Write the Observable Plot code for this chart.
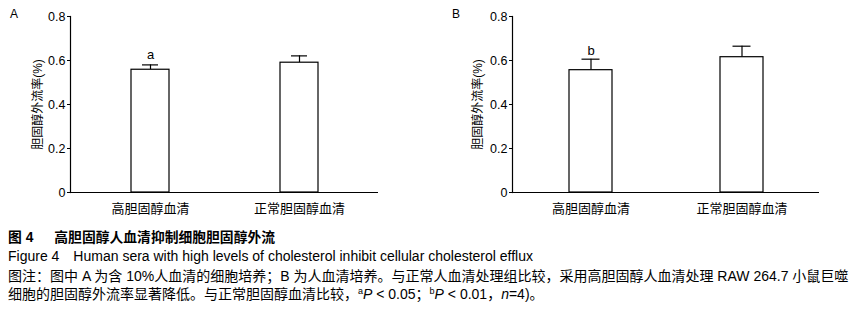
<!DOCTYPE html>
<html>
<head>
<meta charset="utf-8">
<script src="https://cdn.jsdelivr.net/npm/d3@7"></script>
<script src="https://cdn.jsdelivr.net/npm/@observablehq/plot@0.6"></script>
<style>
  body { margin: 0; background: #fff; }
  #wrap { position: relative; width: 851px; height: 316px; overflow: hidden; background: #fff;
          font-family: "Liberation Sans", Arial, "Noto Sans CJK SC", sans-serif; color: #000; }
  .panel { position: absolute; top: 0; }
  .plab { position: absolute; font-size: 12px; top: 7px; }
  .cap { position: absolute; left: 8px; font-size: 14px; white-space: nowrap; line-height: 19px; }
  sup { font-size: 9px; vertical-align: 0; position: relative; top: -5px; }
</style>
</head>
<body>
<div id="wrap">
  <div class="plab" style="left:10px">A</div>
  <div class="plab" style="left:452px">B</div>
  <div class="panel" id="pa" style="left:0px"></div>
  <div class="panel" id="pb" style="left:430px"></div>
  <div class="cap" style="top:228px;font-weight:bold;font-size:13.8px">图 4<span style="display:inline-block;width:21px"></span>高胆固醇人血清抑制细胞胆固醇外流</div>
  <div class="cap" style="top:247px">Figure 4<span style="display:inline-block;width:14px"></span>Human sera with high levels of cholesterol inhibit cellular cholesterol efflux</div>
  <div class="cap" style="top:267px">图注：图中 A 为含 10%人血清的细胞培养；B 为人血清培养。与正常人血清处理组比较，采用高胆固醇人血清处理 RAW 264.7 小鼠巨噬</div>
  <div class="cap" style="top:285px">细胞的胆固醇外流率显著降低。与正常胆固醇血清比较，<sup>a</sup><i>P</i> &lt; 0.05；<sup>b</sup><i>P</i> &lt; 0.01，<i>n</i>=4)。</div>
</div>
<script>
const categories = ["高胆固醇血清", "正常胆固醇血清"];
const meansA = [0.558, 0.590];
const errA = [0.022, 0.031];
const marksA = ["a", ""];
const meansB = [0.556, 0.615];
const errB = [0.050, 0.050];
const marksB = ["b", ""];
const yTicks = [0, 0.2, 0.4, 0.6, 0.8];
const yLabel = "胆固醇外流率(%)";

function panel(means, errs, letters, opt) {
  const data = categories.map((c, i) => ({cat: c, v: means[i], e: errs[i], top: means[i] + errs[i], lab: letters[i]}));
  const font = "Liberation Sans, Arial, Noto Sans CJK SC, sans-serif";
  return Plot.plot({
    width: opt.width,
    height: 222,
    marginLeft: opt.ml,
    marginRight: opt.mr,
    marginTop: 16,
    marginBottom: 30,
    style: {fontFamily: font, fontSize: "12px", color: "#000", background: "transparent"},
    x: {domain: categories, paddingInner: opt.pi, paddingOuter: opt.po, label: null},
    y: {domain: [0, 0.8], ticks: yTicks, label: null},
    marks: [
      Plot.axisY({ticks: yTicks, tickSize: 3, tickPadding: 2, tickFormat: d => d === 0 ? "0" : d.toFixed(1), fontSize: 12.5, stroke: "#000"}),
      Plot.axisY({ticks: [], label: yLabel, labelAnchor: "center", labelArrow: "none", labelOffset: opt.lo, fontSize: 12, tickSize: 0}),
      Plot.axisX({tickSize: 0, tickPadding: 11, fontSize: 13, label: null}),
      Plot.ruleX(data, {x: "cat", y1: 0, y2: d => 0.009, stroke: "#000"}),
      Plot.ruleX(data, {x: "cat", y1: "v", y2: "top", stroke: "#000", strokeWidth: 1.2}),
      Plot.tickY(data, {x: "cat", y: "top", stroke: "#000", strokeWidth: 1.2, insetLeft: opt.cap, insetRight: opt.cap}),
      Plot.barY(data, {x: "cat", y: "v", fill: "#fff", stroke: "#000", strokeWidth: 1.2}),
      Plot.text(data, {x: "cat", y: "top", text: "lab", lineAnchor: "bottom", dy: opt.tdy, fontSize: 13}),
      Plot.ruleY([0], {stroke: "#000", strokeWidth: 1.2}),
      Plot.frame({anchor: "left", stroke: "#000", strokeWidth: 1.2})
    ]
  });
}

document.getElementById("pa").appendChild(panel(meansA, errA, marksA,
  {width: 430, ml: 70, mr: 52, pi: 0.745, po: 0.406, lo: 37, cap: 11, tdy: -6}));
document.getElementById("pb").appendChild(panel(meansB, errB, marksB,
  {width: 421, ml: 82, mr: 32, pi: 0.718, po: 0.37, lo: 39, cap: 12.5, tdy: -4}));
</script>
</body>
</html>
